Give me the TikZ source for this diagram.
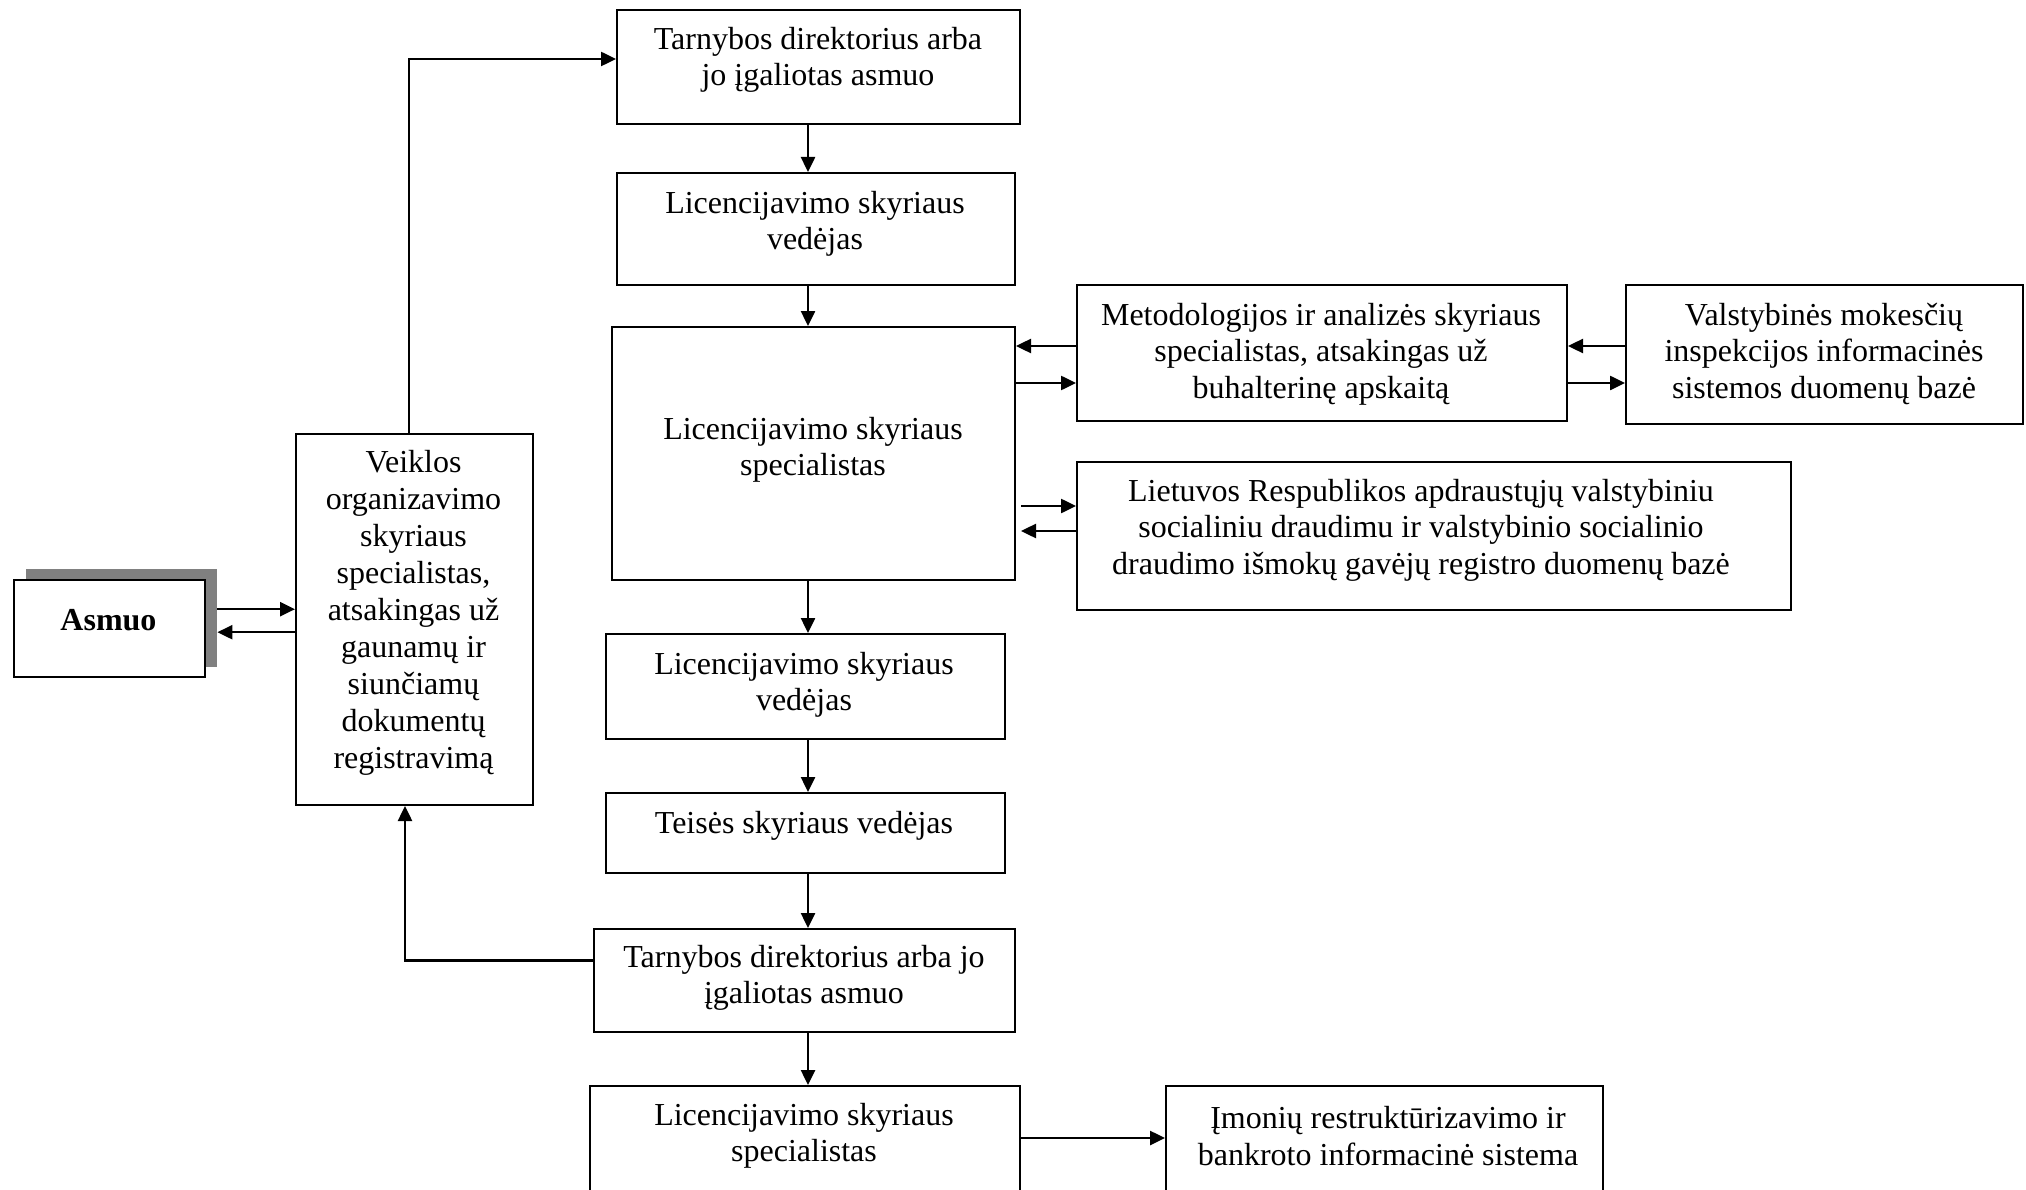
\documentclass[tikz,border=0pt]{standalone}
\usepackage{fontspec}
\setmainfont{Liberation Serif}
\usetikzlibrary{arrows.meta,calc}
\tikzset{
  box/.style={draw, line width=2pt, inner sep=0pt, anchor=north west, fill=white},
  txt/.style={align=center, font=\fontsize{32}{36.5}\selectfont, inner sep=0pt, yshift=-3pt},
  arr/.style={line width=2.5pt, -{Triangle[length=15pt,width=14pt]}},
  shade/.style={fill=black!50, draw=none, inner sep=0pt, anchor=north west}
}
\begin{document}
\begin{tikzpicture}[x=1pt,y=-1pt]
\useasboundingbox (0,0) rectangle (2026,1190);
\coordinate (axis) at (808,0);
% Asmuo
\node[shade, minimum width=191pt, minimum height=98pt] (asmuoshadow) at (26,569) {};
\node[box, minimum width=191pt, minimum height=97pt] (asmuo) at (13,579) {};
\node[txt, yshift=3pt] (asmuotxt) at (108.5,620) {\textbf{Asmuo}};
% Veiklos
\node[box, minimum width=237pt, minimum height=371pt] (veiklos) at (295,433) {};
\node[txt, font=\fontsize{32}{37}\selectfont] (veiklostxt) at (413.5,610) {Veiklos\\organizavimo\\skyriaus\\specialistas,\\atsakingas už\\gaunamų ir\\siunčiamų\\dokumentų\\registravimą};
% Top chain
\node[box, minimum width=403pt, minimum height=114pt] (tarn1) at (616,9) {};
\node[txt] (tarn1txt) at (818,57) {Tarnybos direktorius arba\\jo įgaliotas asmuo};
\node[box, minimum width=398pt, minimum height=112pt] (licved1) at (616,172) {};
\node[txt] (licved1txt) at (815,221) {Licencijavimo skyriaus\\vedėjas};
\node[box, minimum width=403pt, minimum height=253pt] (big) at (611,326) {};
\node[txt] (bigtxt) at (813,447) {Licencijavimo skyriaus\\specialistas};
\node[box, minimum width=490pt, minimum height=136pt] (metod) at (1076,284) {};
\node[txt] (metodtxt) at (1321,351) {Metodologijos ir analizės skyriaus\\specialistas, atsakingas už\\buhalterinę apskaitą};
\node[box, minimum width=397pt, minimum height=139pt] (valst) at (1625,284) {};
\node[txt] (valsttxt) at (1824,351) {Valstybinės mokesčių\\inspekcijos informacinės\\sistemos duomenų bazė};
\node[box, minimum width=714pt, minimum height=148pt] (liet) at (1076,461) {};
\node[txt] (liettxt) at (1421,527) {Lietuvos Respublikos apdraustųjų valstybiniu\\socialiniu draudimu ir valstybinio socialinio\\draudimo išmokų gavėjų registro duomenų bazė};
\node[box, minimum width=399pt, minimum height=105pt] (licved2) at (605,633) {};
\node[txt] (licved2txt) at (804,682) {Licencijavimo skyriaus\\vedėjas};
\node[box, minimum width=399pt, minimum height=80pt] (teises) at (605,792) {};
\node[txt] (teisestxt) at (804,823) {Teisės skyriaus vedėjas};
\node[box, minimum width=421pt, minimum height=103pt] (tarn2) at (593,928) {};
\node[txt] (tarn2txt) at (804,975) {Tarnybos direktorius arba jo\\įgaliotas asmuo};
\node[box, minimum width=430pt, minimum height=115pt] (licspec2) at (589,1085) {};
\node[txt] (licspec2txt) at (804,1133) {Licencijavimo skyriaus\\specialistas};
\node[box, minimum width=437pt, minimum height=115pt] (imon) at (1165,1085) {};
\node[txt] (imontxt) at (1388,1133) {Įmonių restruktūrizavimo ir\\bankroto informacinė sistema};
% connectors
\draw[arr] ([yshift=9pt]asmuoshadow.east) -- ([yshift=9pt]asmuoshadow.east -| veiklos.west);
\draw[arr] ([yshift=-14pt]asmuoshadow.east -| veiklos.west) -- ([yshift=-14pt]asmuoshadow.east);
\draw[arr] ([xshift=-5.5pt]veiklos.north) |- ([yshift=8pt]tarn1.west);
\draw[arr] (tarn1.south -| axis) -- (licved1.north -| axis);
\draw[arr] (licved1.south -| axis) -- (big.north -| axis);
\draw[arr] (big.south -| axis) -- (licved2.north -| axis);
\draw[arr] (licved2.south -| axis) -- (teises.north -| axis);
\draw[arr] (teises.south -| axis) -- (tarn2.north -| axis);
\draw[arr] (tarn2.south -| axis) -- (licspec2.north -| axis);
\draw[arr] ([yshift=20pt]tarn2.west) -| ([xshift=-9.5pt]veiklos.south);
\draw[arr] ([yshift=7pt]metod.west) -- ([yshift=7pt]metod.west -| big.east);
\draw[arr] ([yshift=-30pt]metod.west -| big.east) -- ([yshift=-30pt]metod.west);
\draw[arr] ([yshift=7pt]metod.east -| valst.west) -- ([yshift=7pt]metod.east);
\draw[arr] ([yshift=-30pt]metod.east) -- ([yshift=-30pt]metod.east -| valst.west);
\draw[arr] ([xshift=5pt,yshift=30pt]liet.west -| big.east) -- ([yshift=30pt]liet.west);
\draw[arr] ([yshift=5pt]liet.west) -- ([xshift=5pt,yshift=5pt]liet.west -| big.east);
\draw[arr] ([yshift=5.5pt]licspec2.east) -- ([yshift=5.5pt]licspec2.east -| imon.west);
\end{tikzpicture}
\end{document}
